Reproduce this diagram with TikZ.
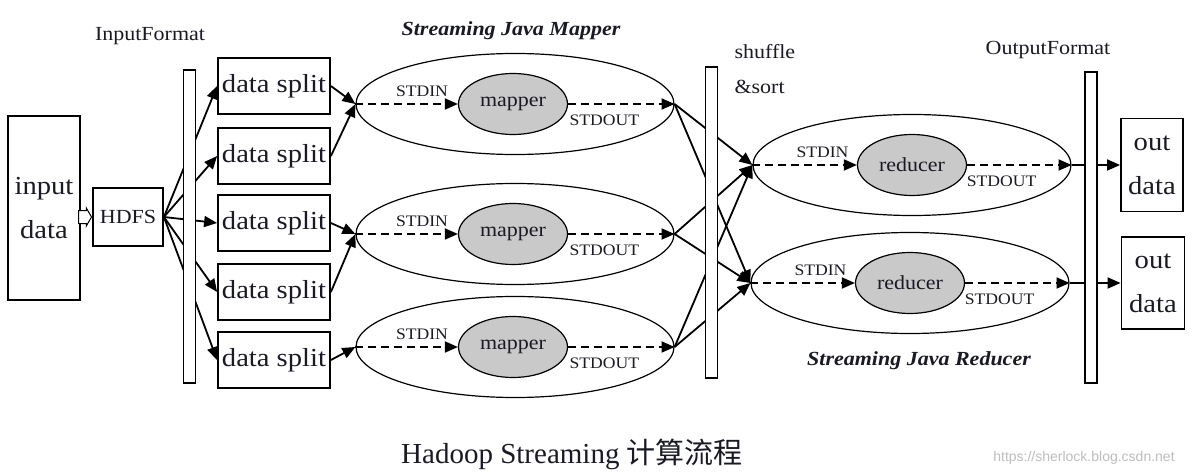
\documentclass[tikz,border=0pt]{standalone}
\usepackage{fontspec}
\setmainfont{Liberation Serif}
\newfontfamily\hsFont{Liberation Serif}[FakeStretch=1.1]
\newfontfamily\hsCjk{Noto Sans CJK SC}
\newfontfamily\hsMark{Liberation Sans}
\usetikzlibrary{arrows.meta,shapes.geometric,shapes.arrows}
\definecolor{hsInk}{HTML}{1A1A24}
\definecolor{hsGray}{HTML}{C9C9C9}
\definecolor{hsMarkGray}{HTML}{BDBDBD}

\begin{document}
\begin{tikzpicture}[x=1pt,y=-1pt,>={Triangle[length=13pt,width=11pt]},line join=miter]
\path[fill=white] (0,0) rectangle (1200,476);
\tikzset{box/.style={draw=black,line width=1.8pt,inner sep=0pt,text=hsInk,font=\hsFont\fontsize{26}{44}\selectfont,align=center},bar/.style={draw=black,fill=white,line width=1.8pt,minimum width=12pt,inner sep=0pt},outer/.style={ellipse,draw=black,line width=1.2pt,minimum width=318pt,minimum height=101pt,inner sep=0pt},inner/.style={ellipse,draw=black,fill=hsGray,line width=1.2pt,minimum width=109pt,minimum height=61pt,inner sep=0pt,text=hsInk,font=\hsFont\fontsize{20}{24}\selectfont},flow/.style={draw=black,line width=1.8pt,->},pipe/.style={draw=black,line width=1.8pt,dash pattern=on 8pt off 5pt,->},lbl/.style={text=hsInk,font=\hsFont\fontsize{20}{24}\selectfont},title/.style={text=hsInk,font=\hsFont\fontsize{20}{24}\selectfont\bfseries\itshape},io/.style={text=hsInk,font=\hsFont\fontsize{16}{18}\selectfont,inner sep=0pt}}
\node[box,minimum width=72pt,minimum height=184pt] (input) at (44,208) {input\\data};
\node[box,minimum width=70pt,minimum height=58pt,font=\hsFont\fontsize{20}{24}\selectfont] (hdfs) at (128,217) {HDFS};
\node[single arrow,draw=black,fill=white,line width=1pt,inner sep=0pt,minimum height=13pt,single arrow head extend=2.5pt,single arrow tip angle=120,anchor=tip] (feed) at (hdfs.west) {\rule{8pt}{0pt}\rule{0pt}{12pt}};
\foreach \i/\y in {1/86,2/156,3/223,4/292,5/360} \node[box,minimum width=112pt,minimum height=56pt] (split\i) at (274,\y) {data split};
\foreach \i in {1,...,5} \draw[flow] (hdfs.east) -- (split\i.west);
\node[bar,minimum height=313pt] (inbar) at (189.5,226.5) {};
\foreach \i/\y in {1/104,2/234,3/347} {\node[outer] (map\i) at (515,\y) {}; \node[inner] (mapper\i) at (513,\y) {mapper};
\draw[pipe] (map\i.west) -- (mapper\i.west) node[io,pos=0.65,above=6pt] (stdin\i) {STDIN};
\draw[pipe] (mapper\i.east) -- (map\i.east) node[io,pos=0.34,below=10pt] (stdout\i) {STDOUT};}
\foreach \i/\m in {1/1,2/1,3/2,4/2,5/3} \draw[flow] (split\i.east) -- (map\m.west);
\foreach \j/\x/\y in {1/912/165,2/910/283} {\node[outer] (red\j) at (\x,\y) {}; \node[inner] (reducer\j) at (\x,\y) {reducer};
\draw[pipe] (red\j.west) -- (reducer\j.west) node[io,pos=0.67,above=6pt] (rin\j) {STDIN};
\draw[pipe] (reducer\j.east) -- (red\j.east) node[io,pos=0.33,below=10pt] (rout\j) {STDOUT};}
\foreach \i in {1,2,3} \foreach \j in {1,2} \draw[flow] (map\i.east) -- (red\j.west);
\node[bar,minimum height=311pt] (shufbar) at (711.5,222.5) {};
\node[box,minimum width=62pt,minimum height=93pt] (res1) at (1152,165) {out\\data};
\node[box,minimum width=63pt,minimum height=92pt] (res2) at (1153,283) {out\\data};
\foreach \j in {1,2} \draw[flow] (red\j.east) -- (res\j.west);
\node[bar,minimum height=311pt] (outbar) at (1091,227.5) {};
\node[lbl] (inFmt) at (150,36) {InputFormat};
\node[title] (mapTitle) at (511,31) {Streaming Java Mapper};
\node[lbl,anchor=west] (shufLbl) at (731,52) {shuffle}; \node[lbl,anchor=west] (sortLbl) at (731,87) {\&sort};
\node[lbl] (outFmt) at (1048,50) {OutputFormat};
\node[title] (redTitle) at (919,361) {Streaming Java Reducer};
\node[text=hsInk,font=\fontsize{29}{34}\selectfont] (caption) at (572,454) {Hadoop Streaming {\hsCjk 计算流程}};
\node[text=hsMarkGray,font=\hsMark\fontsize{14}{16}\selectfont] (mark) at (1084,458) {https://sherlock.blog.csdn.net};
\end{tikzpicture}
\end{document}
